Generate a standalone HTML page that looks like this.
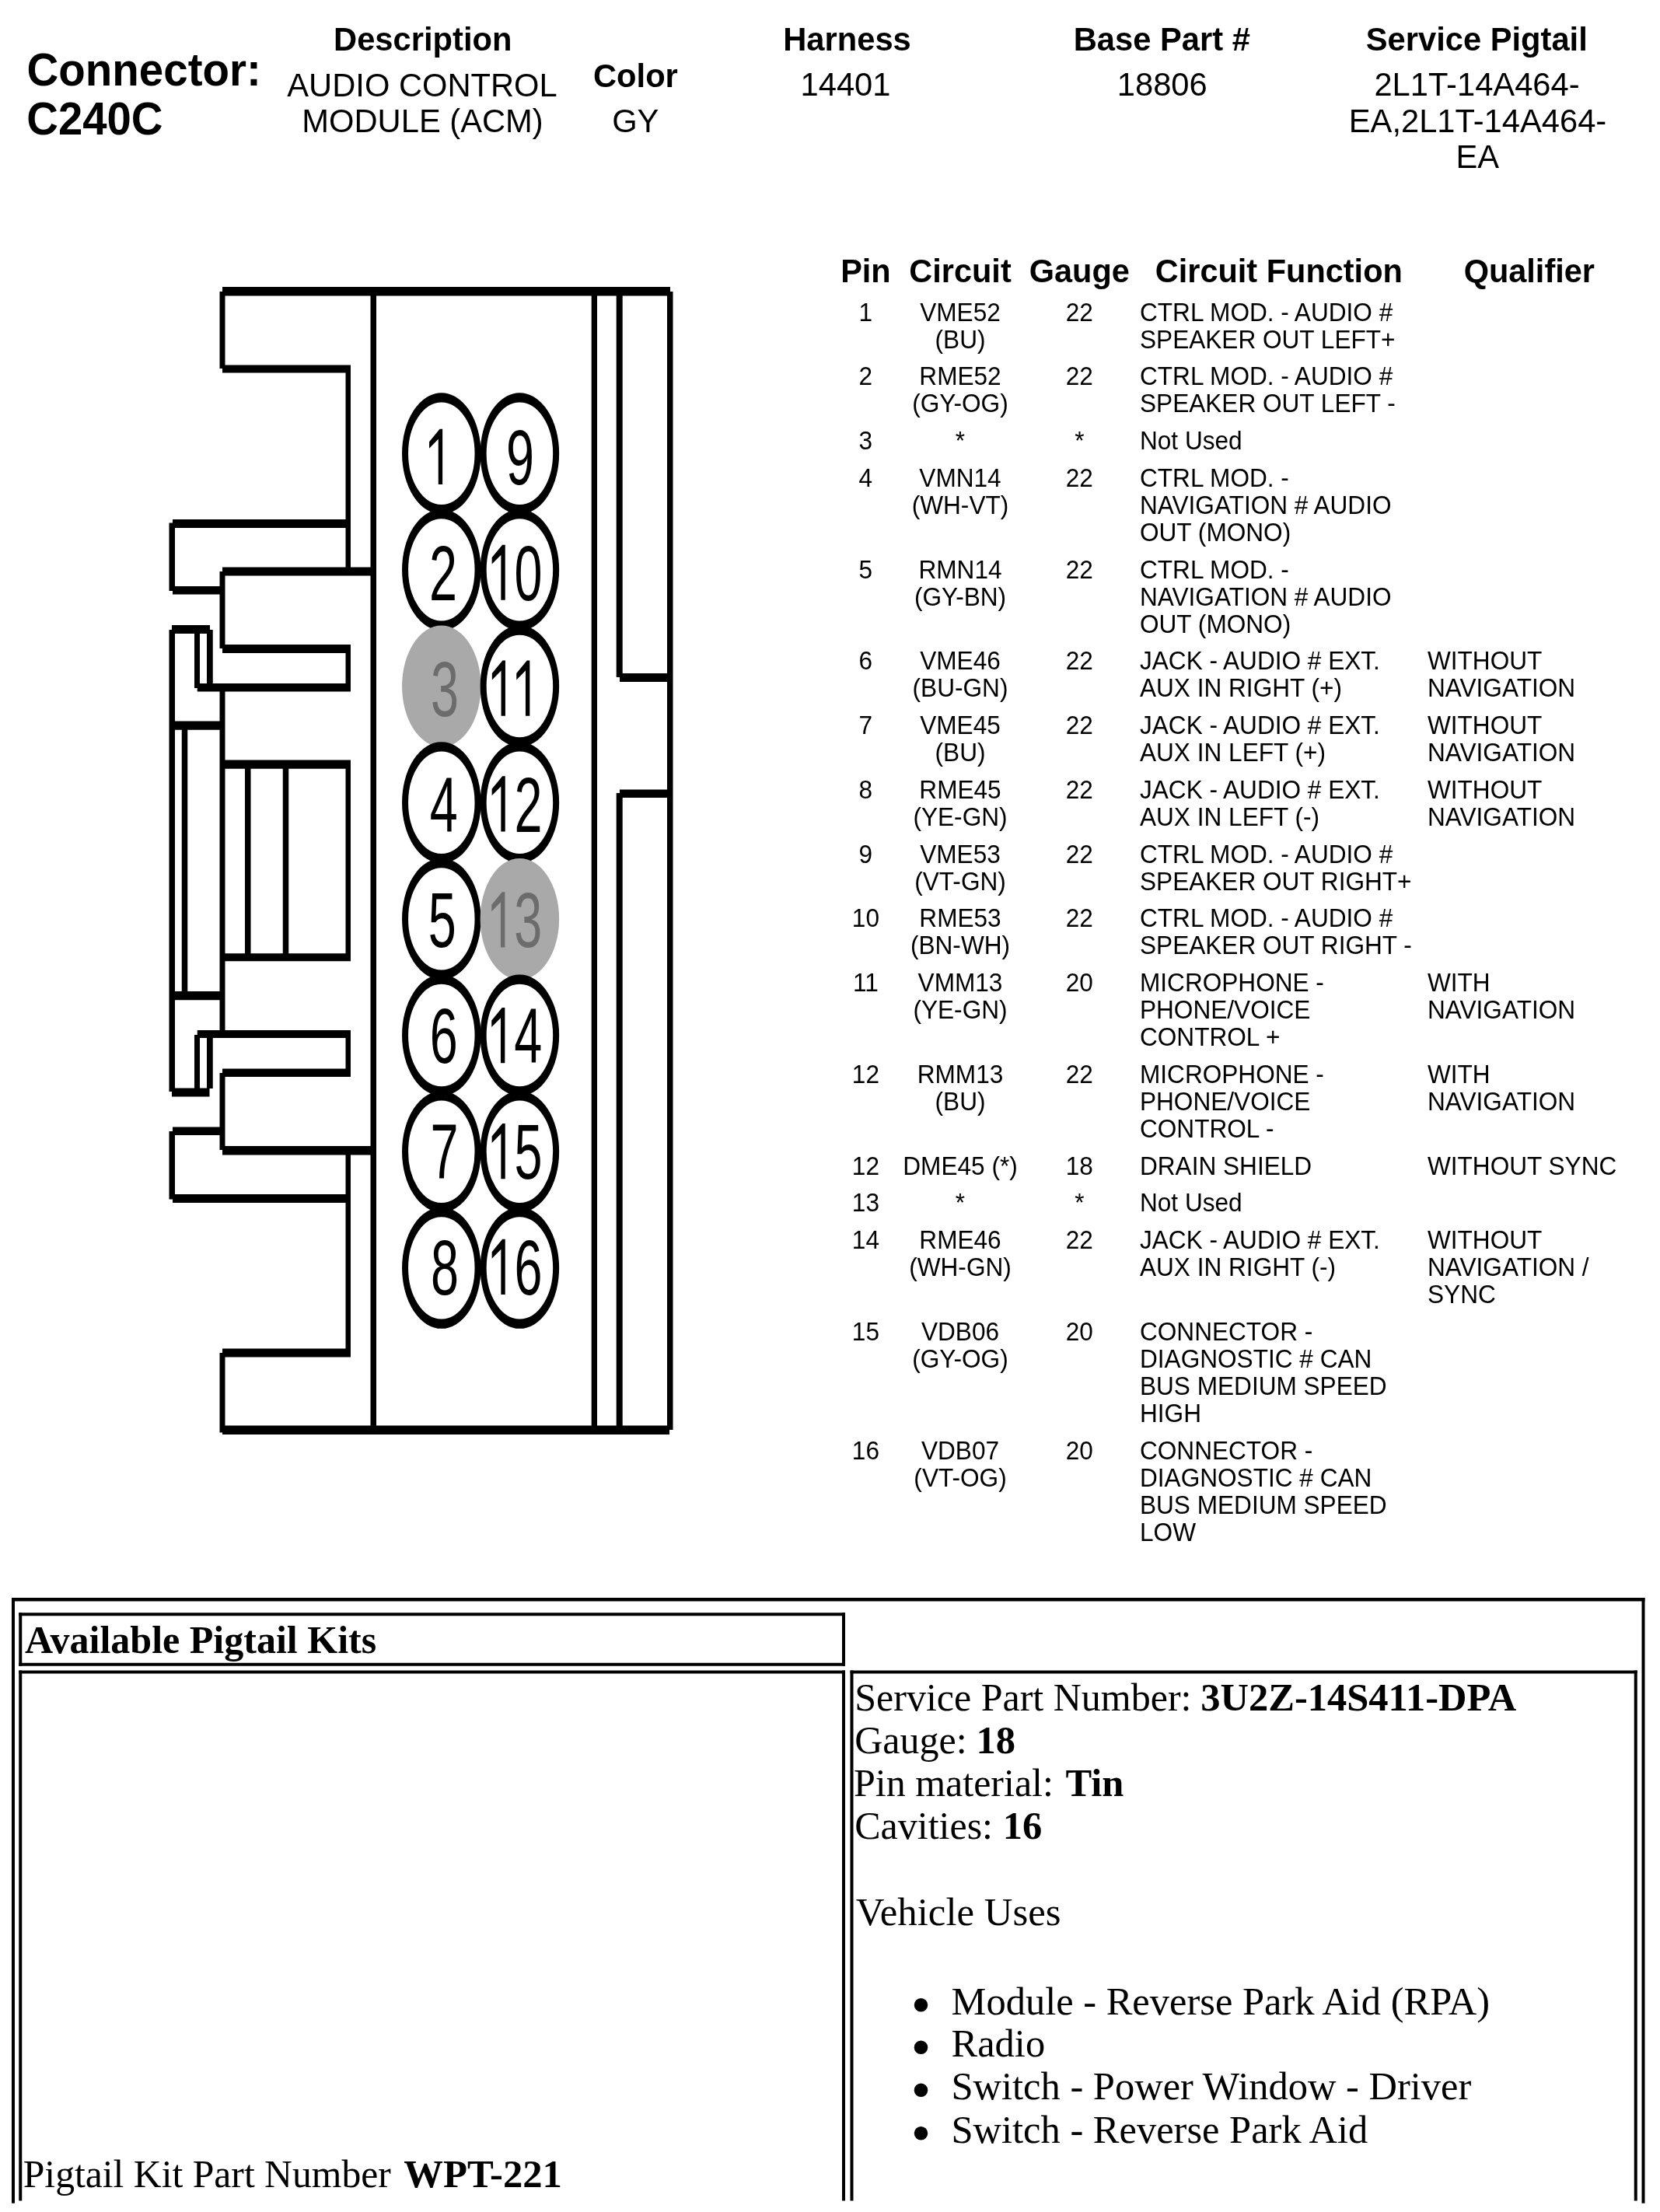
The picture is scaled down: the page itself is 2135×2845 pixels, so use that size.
<!DOCTYPE html>
<html><head><meta charset="utf-8"><title>Connector C240C</title>
<style>
html,body{margin:0;padding:0;background:#fff;}
body{width:2135px;height:2845px;overflow:hidden;font-family:"Liberation Sans",sans-serif;}
svg{display:block;filter:grayscale(100%);}
</style></head><body>
<svg width="2135" height="2845" viewBox="0 0 2135 2845"><text transform="translate(34.5,110) scale(1,1.04)" font-family="Liberation Sans" font-size="56.5" font-weight="bold" text-anchor="start" fill="#000">Connector:</text>
<text transform="translate(34.25,172.5) scale(1,1.04)" font-family="Liberation Sans" font-size="56.3" font-weight="bold" text-anchor="start" fill="#000">C240C</text>
<text transform="translate(543.75,65) scale(1,1.04)" font-family="Liberation Sans" font-size="41.7" font-weight="bold" text-anchor="middle" fill="#000">Description</text>
<text transform="translate(543,123.75) scale(1,1.04)" font-family="Liberation Sans" font-size="41.7" font-weight="normal" text-anchor="middle" fill="#000">AUDIO CONTROL</text>
<text transform="translate(543.5,170) scale(1,1.04)" font-family="Liberation Sans" font-size="41.7" font-weight="normal" text-anchor="middle" fill="#000">MODULE (ACM)</text>
<text transform="translate(817.4,112) scale(1,1.04)" font-family="Liberation Sans" font-size="41.7" font-weight="bold" text-anchor="middle" fill="#000">Color</text>
<text transform="translate(817.25,170) scale(1,1.04)" font-family="Liberation Sans" font-size="41.7" font-weight="normal" text-anchor="middle" fill="#000">GY</text>
<text transform="translate(1089.5,65) scale(1,1.04)" font-family="Liberation Sans" font-size="41.7" font-weight="bold" text-anchor="middle" fill="#000">Harness</text>
<text transform="translate(1087.5,123) scale(1,1.04)" font-family="Liberation Sans" font-size="41.7" font-weight="normal" text-anchor="middle" fill="#000">14401</text>
<text transform="translate(1494.25,65) scale(1,1.04)" font-family="Liberation Sans" font-size="41.7" font-weight="bold" text-anchor="middle" fill="#000">Base Part #</text>
<text transform="translate(1494.75,123) scale(1,1.04)" font-family="Liberation Sans" font-size="41.7" font-weight="normal" text-anchor="middle" fill="#000">18806</text>
<text transform="translate(1899.25,65) scale(1,1.04)" font-family="Liberation Sans" font-size="41.7" font-weight="bold" text-anchor="middle" fill="#000">Service Pigtail</text>
<text transform="translate(1899.5,123) scale(1,1.04)" font-family="Liberation Sans" font-size="41.7" font-weight="normal" text-anchor="middle" fill="#000">2L1T-14A464-</text>
<text transform="translate(1900.5,170) scale(1,1.04)" font-family="Liberation Sans" font-size="41.7" font-weight="normal" text-anchor="middle" fill="#000">EA,2L1T-14A464-</text>
<text transform="translate(1900.25,216) scale(1,1.04)" font-family="Liberation Sans" font-size="41.7" font-weight="normal" text-anchor="middle" fill="#000">EA</text>
<rect x="286" y="369" width="576" height="11.5" fill="#000"/>
<rect x="286" y="1833.5" width="575" height="11.5" fill="#000"/>
<rect x="858" y="375" width="7.5" height="1464" fill="#000"/>
<rect x="760.7" y="375" width="7.3" height="1464" fill="#000"/>
<rect x="792.7" y="375" width="8.0" height="496" fill="#000"/>
<rect x="792.7" y="1020" width="8.0" height="819" fill="#000"/>
<rect x="797" y="866" width="65" height="11" fill="#000"/>
<rect x="797" y="1015.5" width="65" height="10.5" fill="#000"/>
<rect x="476.5" y="375" width="7.5" height="1464" fill="#000"/>
<rect x="282.5" y="375" width="7.0" height="99" fill="#000"/>
<rect x="286" y="469.5" width="165" height="10.0" fill="#000"/>
<rect x="444.5" y="470" width="6.5" height="265" fill="#000"/>
<rect x="222" y="668" width="226" height="11" fill="#000"/>
<rect x="217.5" y="672.5" width="7.5" height="87.5" fill="#000"/>
<rect x="222" y="754" width="64" height="10.5" fill="#000"/>
<rect x="286" y="729.5" width="194" height="11.0" fill="#000"/>
<rect x="282.5" y="735" width="7.0" height="99" fill="#000"/>
<rect x="286" y="829" width="165" height="11" fill="#000"/>
<rect x="444.5" y="830" width="6.5" height="59" fill="#000"/>
<rect x="253.75" y="879" width="197.25" height="10.5" fill="#000"/>
<rect x="221" y="804" width="49" height="11" fill="#000"/>
<rect x="217.5" y="810" width="7.5" height="594" fill="#000"/>
<rect x="250" y="812" width="7" height="73" fill="#000"/>
<rect x="266" y="810" width="7.75" height="70" fill="#000"/>
<rect x="282.5" y="885" width="7.0" height="442.5" fill="#000"/>
<rect x="222" y="927.5" width="64" height="11.25" fill="#000"/>
<rect x="233.75" y="938" width="7.5" height="337" fill="#000"/>
<rect x="222" y="1275" width="64" height="11.25" fill="#000"/>
<rect x="286" y="977.5" width="165" height="11.25" fill="#000"/>
<rect x="444.5" y="978" width="6.5" height="252" fill="#000"/>
<rect x="315" y="988" width="7.5" height="239" fill="#000"/>
<rect x="363.75" y="988" width="7.5" height="239" fill="#000"/>
<rect x="286" y="1226.25" width="165" height="10.0" fill="#000"/>
<rect x="253.75" y="1325" width="197.25" height="10" fill="#000"/>
<rect x="444.5" y="1330" width="6.5" height="54" fill="#000"/>
<rect x="286" y="1374.5" width="165" height="10.5" fill="#000"/>
<rect x="250" y="1331" width="7" height="73" fill="#000"/>
<rect x="266" y="1333" width="7.75" height="67" fill="#000"/>
<rect x="221" y="1399.5" width="48.5" height="11.0" fill="#000"/>
<rect x="282.5" y="1380" width="7.0" height="99" fill="#000"/>
<rect x="222" y="1449.5" width="64" height="10.5" fill="#000"/>
<rect x="217.5" y="1455" width="7.5" height="87.5" fill="#000"/>
<rect x="286" y="1474" width="194" height="11.5" fill="#000"/>
<rect x="444.5" y="1485" width="6.5" height="255" fill="#000"/>
<rect x="222" y="1536" width="229" height="11" fill="#000"/>
<rect x="286" y="1734.5" width="165" height="11.0" fill="#000"/>
<rect x="282.5" y="1740" width="7.0" height="102.5" fill="#000"/>
<g transform="translate(567.8,583.25) scale(1,1.537)"><circle cx="0" cy="0" r="46.75" fill="#fff" stroke="#000" stroke-width="8"/></g>
<g transform="translate(0,623.00) scale(1,1.56)"><path d="M563.76,0.00 L569.13,0.00 L569.13,-45.65 L565.57,-45.65 L552.05,-35.11 L552.05,-29.66 L563.76,-37.29 L563.76,0.00Z" fill="#000"/></g>
<g transform="translate(668.4,583.25) scale(1,1.537)"><circle cx="0" cy="0" r="46.75" fill="#fff" stroke="#000" stroke-width="8"/></g>
<g transform="translate(0,623.00) scale(1,1.56)"><text x="651.00" y="0" font-family="Liberation Sans" font-size="64.7" fill="#000">9</text></g>
<g transform="translate(567.8,732.91) scale(1,1.537)"><circle cx="0" cy="0" r="46.75" fill="#fff" stroke="#000" stroke-width="8"/></g>
<g transform="translate(0,771.86) scale(1,1.56)"><text x="552.00" y="0" font-family="Liberation Sans" font-size="64.7" fill="#000">2</text></g>
<g transform="translate(668.4,732.91) scale(1,1.537)"><circle cx="0" cy="0" r="46.75" fill="#fff" stroke="#000" stroke-width="8"/></g>
<g transform="translate(0,771.86) scale(1,1.56)"><path d="M644.36,0.00 L649.73,0.00 L649.73,-45.65 L646.17,-45.65 L632.65,-35.11 L632.65,-29.66 L644.36,-37.29 L644.36,0.00Z" fill="#000"/><text x="661.58" y="0" font-family="Liberation Sans" font-size="64.7" fill="#000">0</text></g>
<g transform="translate(567.8,882.5699999999999) scale(1,1.537)"><ellipse cx="0" cy="0" rx="50.75" ry="50.75" fill="#a9a9a9"/></g>
<g transform="translate(0,920.72) scale(1,1.56)"><text x="553.90" y="0" font-family="Liberation Sans" font-size="64.7" fill="#6c6c6c">3</text></g>
<g transform="translate(668.4,882.5699999999999) scale(1,1.537)"><circle cx="0" cy="0" r="46.75" fill="#fff" stroke="#000" stroke-width="8"/></g>
<g transform="translate(0,920.72) scale(1,1.56)"><path d="M644.56,0.00 L649.93,0.00 L649.93,-45.65 L646.37,-45.65 L632.85,-35.11 L632.85,-29.66 L644.56,-37.29 L644.56,0.00Z" fill="#000"/><path d="M675.95,0.00 L681.32,0.00 L681.32,-45.65 L677.76,-45.65 L664.24,-35.11 L664.24,-29.66 L675.95,-37.29 L675.95,0.00Z" fill="#000"/></g>
<g transform="translate(567.8,1032.23) scale(1,1.537)"><circle cx="0" cy="0" r="46.75" fill="#fff" stroke="#000" stroke-width="8"/></g>
<g transform="translate(0,1069.58) scale(1,1.56)"><text x="552.80" y="0" font-family="Liberation Sans" font-size="64.7" fill="#000">4</text></g>
<g transform="translate(668.4,1032.23) scale(1,1.537)"><circle cx="0" cy="0" r="46.75" fill="#fff" stroke="#000" stroke-width="8"/></g>
<g transform="translate(0,1069.58) scale(1,1.56)"><path d="M644.36,0.00 L649.73,0.00 L649.73,-45.65 L646.17,-45.65 L632.65,-35.11 L632.65,-29.66 L644.36,-37.29 L644.36,0.00Z" fill="#000"/><text x="661.58" y="0" font-family="Liberation Sans" font-size="64.7" fill="#000">2</text></g>
<g transform="translate(567.8,1181.8899999999999) scale(1,1.537)"><circle cx="0" cy="0" r="46.75" fill="#fff" stroke="#000" stroke-width="8"/></g>
<g transform="translate(0,1218.44) scale(1,1.56)"><text x="550.80" y="0" font-family="Liberation Sans" font-size="64.7" fill="#000">5</text></g>
<g transform="translate(668.4,1181.8899999999999) scale(1,1.537)"><ellipse cx="0" cy="0" rx="50.75" ry="50.75" fill="#a9a9a9"/></g>
<g transform="translate(0,1218.44) scale(1,1.56)"><path d="M643.96,0.00 L649.33,0.00 L649.33,-45.65 L645.77,-45.65 L632.25,-35.11 L632.25,-29.66 L643.96,-37.29 L643.96,0.00Z" fill="#6c6c6c"/><text x="661.18" y="0" font-family="Liberation Sans" font-size="64.7" fill="#6c6c6c">3</text></g>
<g transform="translate(567.8,1331.55) scale(1,1.537)"><circle cx="0" cy="0" r="46.75" fill="#fff" stroke="#000" stroke-width="8"/></g>
<g transform="translate(0,1367.30) scale(1,1.56)"><text x="552.80" y="0" font-family="Liberation Sans" font-size="64.7" fill="#000">6</text></g>
<g transform="translate(668.4,1331.55) scale(1,1.537)"><circle cx="0" cy="0" r="46.75" fill="#fff" stroke="#000" stroke-width="8"/></g>
<g transform="translate(0,1367.30) scale(1,1.56)"><path d="M643.96,0.00 L649.33,0.00 L649.33,-45.65 L645.77,-45.65 L632.25,-35.11 L632.25,-29.66 L643.96,-37.29 L643.96,0.00Z" fill="#000"/><text x="661.18" y="0" font-family="Liberation Sans" font-size="64.7" fill="#000">4</text></g>
<g transform="translate(567.8,1481.21) scale(1,1.537)"><circle cx="0" cy="0" r="46.75" fill="#fff" stroke="#000" stroke-width="8"/></g>
<g transform="translate(0,1516.16) scale(1,1.56)"><text x="553.40" y="0" font-family="Liberation Sans" font-size="64.7" fill="#000">7</text></g>
<g transform="translate(668.4,1481.21) scale(1,1.537)"><circle cx="0" cy="0" r="46.75" fill="#fff" stroke="#000" stroke-width="8"/></g>
<g transform="translate(0,1516.16) scale(1,1.56)"><path d="M644.36,0.00 L649.73,0.00 L649.73,-45.65 L646.17,-45.65 L632.65,-35.11 L632.65,-29.66 L644.36,-37.29 L644.36,0.00Z" fill="#000"/><text x="661.58" y="0" font-family="Liberation Sans" font-size="64.7" fill="#000">5</text></g>
<g transform="translate(567.8,1630.87) scale(1,1.537)"><circle cx="0" cy="0" r="46.75" fill="#fff" stroke="#000" stroke-width="8"/></g>
<g transform="translate(0,1665.02) scale(1,1.56)"><text x="554.00" y="0" font-family="Liberation Sans" font-size="64.7" fill="#000">8</text></g>
<g transform="translate(668.4,1630.87) scale(1,1.537)"><circle cx="0" cy="0" r="46.75" fill="#fff" stroke="#000" stroke-width="8"/></g>
<g transform="translate(0,1665.02) scale(1,1.56)"><path d="M644.36,0.00 L649.73,0.00 L649.73,-45.65 L646.17,-45.65 L632.65,-35.11 L632.65,-29.66 L644.36,-37.29 L644.36,0.00Z" fill="#000"/><text x="661.58" y="0" font-family="Liberation Sans" font-size="64.7" fill="#000">6</text></g>
<text transform="translate(1113.4,363) scale(1,1.04)" font-family="Liberation Sans" font-size="41.5" font-weight="bold" text-anchor="middle" fill="#000">Pin</text>
<text transform="translate(1235,363) scale(1,1.04)" font-family="Liberation Sans" font-size="41.5" font-weight="bold" text-anchor="middle" fill="#000">Circuit</text>
<text transform="translate(1388.3,363) scale(1,1.04)" font-family="Liberation Sans" font-size="41.5" font-weight="bold" text-anchor="middle" fill="#000">Gauge</text>
<text transform="translate(1644.8,363) scale(1,1.04)" font-family="Liberation Sans" font-size="41.5" font-weight="bold" text-anchor="middle" fill="#000">Circuit Function</text>
<text transform="translate(1966.8,363) scale(1,1.04)" font-family="Liberation Sans" font-size="41.5" font-weight="bold" text-anchor="middle" fill="#000">Qualifier</text>
<text transform="translate(1113.4,412.5) scale(1,1.04)" font-family="Liberation Sans" font-size="31.6" font-weight="normal" text-anchor="middle" fill="#000">1</text>
<text transform="translate(1235,412.5) scale(1,1.04)" font-family="Liberation Sans" font-size="31.6" font-weight="normal" text-anchor="middle" fill="#000">VME52</text>
<text transform="translate(1235,447.5) scale(1,1.04)" font-family="Liberation Sans" font-size="31.6" font-weight="normal" text-anchor="middle" fill="#000">(BU)</text>
<text transform="translate(1388.3,412.5) scale(1,1.04)" font-family="Liberation Sans" font-size="31.6" font-weight="normal" text-anchor="middle" fill="#000">22</text>
<text transform="translate(1466,412.5) scale(1,1.04)" font-family="Liberation Sans" font-size="31.6" font-weight="normal" text-anchor="start" fill="#000">CTRL MOD. - AUDIO #</text>
<text transform="translate(1466,447.5) scale(1,1.04)" font-family="Liberation Sans" font-size="31.6" font-weight="normal" text-anchor="start" fill="#000">SPEAKER OUT LEFT+</text>
<text transform="translate(1113.4,495.25) scale(1,1.04)" font-family="Liberation Sans" font-size="31.6" font-weight="normal" text-anchor="middle" fill="#000">2</text>
<text transform="translate(1235,495.25) scale(1,1.04)" font-family="Liberation Sans" font-size="31.6" font-weight="normal" text-anchor="middle" fill="#000">RME52</text>
<text transform="translate(1235,530.25) scale(1,1.04)" font-family="Liberation Sans" font-size="31.6" font-weight="normal" text-anchor="middle" fill="#000">(GY-OG)</text>
<text transform="translate(1388.3,495.25) scale(1,1.04)" font-family="Liberation Sans" font-size="31.6" font-weight="normal" text-anchor="middle" fill="#000">22</text>
<text transform="translate(1466,495.25) scale(1,1.04)" font-family="Liberation Sans" font-size="31.6" font-weight="normal" text-anchor="start" fill="#000">CTRL MOD. - AUDIO #</text>
<text transform="translate(1466,530.25) scale(1,1.04)" font-family="Liberation Sans" font-size="31.6" font-weight="normal" text-anchor="start" fill="#000">SPEAKER OUT LEFT -</text>
<text transform="translate(1113.4,578.0) scale(1,1.04)" font-family="Liberation Sans" font-size="31.6" font-weight="normal" text-anchor="middle" fill="#000">3</text>
<text transform="translate(1235,578.0) scale(1,1.04)" font-family="Liberation Sans" font-size="31.6" font-weight="normal" text-anchor="middle" fill="#000">*</text>
<text transform="translate(1388.3,578.0) scale(1,1.04)" font-family="Liberation Sans" font-size="31.6" font-weight="normal" text-anchor="middle" fill="#000">*</text>
<text transform="translate(1466,578.0) scale(1,1.04)" font-family="Liberation Sans" font-size="31.6" font-weight="normal" text-anchor="start" fill="#000">Not Used</text>
<text transform="translate(1113.4,625.75) scale(1,1.04)" font-family="Liberation Sans" font-size="31.6" font-weight="normal" text-anchor="middle" fill="#000">4</text>
<text transform="translate(1235,625.75) scale(1,1.04)" font-family="Liberation Sans" font-size="31.6" font-weight="normal" text-anchor="middle" fill="#000">VMN14</text>
<text transform="translate(1235,660.75) scale(1,1.04)" font-family="Liberation Sans" font-size="31.6" font-weight="normal" text-anchor="middle" fill="#000">(WH-VT)</text>
<text transform="translate(1388.3,625.75) scale(1,1.04)" font-family="Liberation Sans" font-size="31.6" font-weight="normal" text-anchor="middle" fill="#000">22</text>
<text transform="translate(1466,625.75) scale(1,1.04)" font-family="Liberation Sans" font-size="31.6" font-weight="normal" text-anchor="start" fill="#000">CTRL MOD. -</text>
<text transform="translate(1466,660.75) scale(1,1.04)" font-family="Liberation Sans" font-size="31.6" font-weight="normal" text-anchor="start" fill="#000">NAVIGATION # AUDIO</text>
<text transform="translate(1466,695.75) scale(1,1.04)" font-family="Liberation Sans" font-size="31.6" font-weight="normal" text-anchor="start" fill="#000">OUT (MONO)</text>
<text transform="translate(1113.4,743.5) scale(1,1.04)" font-family="Liberation Sans" font-size="31.6" font-weight="normal" text-anchor="middle" fill="#000">5</text>
<text transform="translate(1235,743.5) scale(1,1.04)" font-family="Liberation Sans" font-size="31.6" font-weight="normal" text-anchor="middle" fill="#000">RMN14</text>
<text transform="translate(1235,778.5) scale(1,1.04)" font-family="Liberation Sans" font-size="31.6" font-weight="normal" text-anchor="middle" fill="#000">(GY-BN)</text>
<text transform="translate(1388.3,743.5) scale(1,1.04)" font-family="Liberation Sans" font-size="31.6" font-weight="normal" text-anchor="middle" fill="#000">22</text>
<text transform="translate(1466,743.5) scale(1,1.04)" font-family="Liberation Sans" font-size="31.6" font-weight="normal" text-anchor="start" fill="#000">CTRL MOD. -</text>
<text transform="translate(1466,778.5) scale(1,1.04)" font-family="Liberation Sans" font-size="31.6" font-weight="normal" text-anchor="start" fill="#000">NAVIGATION # AUDIO</text>
<text transform="translate(1466,813.5) scale(1,1.04)" font-family="Liberation Sans" font-size="31.6" font-weight="normal" text-anchor="start" fill="#000">OUT (MONO)</text>
<text transform="translate(1113.4,861.25) scale(1,1.04)" font-family="Liberation Sans" font-size="31.6" font-weight="normal" text-anchor="middle" fill="#000">6</text>
<text transform="translate(1235,861.25) scale(1,1.04)" font-family="Liberation Sans" font-size="31.6" font-weight="normal" text-anchor="middle" fill="#000">VME46</text>
<text transform="translate(1235,896.25) scale(1,1.04)" font-family="Liberation Sans" font-size="31.6" font-weight="normal" text-anchor="middle" fill="#000">(BU-GN)</text>
<text transform="translate(1388.3,861.25) scale(1,1.04)" font-family="Liberation Sans" font-size="31.6" font-weight="normal" text-anchor="middle" fill="#000">22</text>
<text transform="translate(1466,861.25) scale(1,1.04)" font-family="Liberation Sans" font-size="31.6" font-weight="normal" text-anchor="start" fill="#000">JACK - AUDIO # EXT.</text>
<text transform="translate(1466,896.25) scale(1,1.04)" font-family="Liberation Sans" font-size="31.6" font-weight="normal" text-anchor="start" fill="#000">AUX IN RIGHT (+)</text>
<text transform="translate(1836,861.25) scale(1,1.04)" font-family="Liberation Sans" font-size="31.6" font-weight="normal" text-anchor="start" fill="#000">WITHOUT</text>
<text transform="translate(1836,896.25) scale(1,1.04)" font-family="Liberation Sans" font-size="31.6" font-weight="normal" text-anchor="start" fill="#000">NAVIGATION</text>
<text transform="translate(1113.4,944.0) scale(1,1.04)" font-family="Liberation Sans" font-size="31.6" font-weight="normal" text-anchor="middle" fill="#000">7</text>
<text transform="translate(1235,944.0) scale(1,1.04)" font-family="Liberation Sans" font-size="31.6" font-weight="normal" text-anchor="middle" fill="#000">VME45</text>
<text transform="translate(1235,979.0) scale(1,1.04)" font-family="Liberation Sans" font-size="31.6" font-weight="normal" text-anchor="middle" fill="#000">(BU)</text>
<text transform="translate(1388.3,944.0) scale(1,1.04)" font-family="Liberation Sans" font-size="31.6" font-weight="normal" text-anchor="middle" fill="#000">22</text>
<text transform="translate(1466,944.0) scale(1,1.04)" font-family="Liberation Sans" font-size="31.6" font-weight="normal" text-anchor="start" fill="#000">JACK - AUDIO # EXT.</text>
<text transform="translate(1466,979.0) scale(1,1.04)" font-family="Liberation Sans" font-size="31.6" font-weight="normal" text-anchor="start" fill="#000">AUX IN LEFT (+)</text>
<text transform="translate(1836,944.0) scale(1,1.04)" font-family="Liberation Sans" font-size="31.6" font-weight="normal" text-anchor="start" fill="#000">WITHOUT</text>
<text transform="translate(1836,979.0) scale(1,1.04)" font-family="Liberation Sans" font-size="31.6" font-weight="normal" text-anchor="start" fill="#000">NAVIGATION</text>
<text transform="translate(1113.4,1026.75) scale(1,1.04)" font-family="Liberation Sans" font-size="31.6" font-weight="normal" text-anchor="middle" fill="#000">8</text>
<text transform="translate(1235,1026.75) scale(1,1.04)" font-family="Liberation Sans" font-size="31.6" font-weight="normal" text-anchor="middle" fill="#000">RME45</text>
<text transform="translate(1235,1061.75) scale(1,1.04)" font-family="Liberation Sans" font-size="31.6" font-weight="normal" text-anchor="middle" fill="#000">(YE-GN)</text>
<text transform="translate(1388.3,1026.75) scale(1,1.04)" font-family="Liberation Sans" font-size="31.6" font-weight="normal" text-anchor="middle" fill="#000">22</text>
<text transform="translate(1466,1026.75) scale(1,1.04)" font-family="Liberation Sans" font-size="31.6" font-weight="normal" text-anchor="start" fill="#000">JACK - AUDIO # EXT.</text>
<text transform="translate(1466,1061.75) scale(1,1.04)" font-family="Liberation Sans" font-size="31.6" font-weight="normal" text-anchor="start" fill="#000">AUX IN LEFT (-)</text>
<text transform="translate(1836,1026.75) scale(1,1.04)" font-family="Liberation Sans" font-size="31.6" font-weight="normal" text-anchor="start" fill="#000">WITHOUT</text>
<text transform="translate(1836,1061.75) scale(1,1.04)" font-family="Liberation Sans" font-size="31.6" font-weight="normal" text-anchor="start" fill="#000">NAVIGATION</text>
<text transform="translate(1113.4,1109.5) scale(1,1.04)" font-family="Liberation Sans" font-size="31.6" font-weight="normal" text-anchor="middle" fill="#000">9</text>
<text transform="translate(1235,1109.5) scale(1,1.04)" font-family="Liberation Sans" font-size="31.6" font-weight="normal" text-anchor="middle" fill="#000">VME53</text>
<text transform="translate(1235,1144.5) scale(1,1.04)" font-family="Liberation Sans" font-size="31.6" font-weight="normal" text-anchor="middle" fill="#000">(VT-GN)</text>
<text transform="translate(1388.3,1109.5) scale(1,1.04)" font-family="Liberation Sans" font-size="31.6" font-weight="normal" text-anchor="middle" fill="#000">22</text>
<text transform="translate(1466,1109.5) scale(1,1.04)" font-family="Liberation Sans" font-size="31.6" font-weight="normal" text-anchor="start" fill="#000">CTRL MOD. - AUDIO #</text>
<text transform="translate(1466,1144.5) scale(1,1.04)" font-family="Liberation Sans" font-size="31.6" font-weight="normal" text-anchor="start" fill="#000">SPEAKER OUT RIGHT+</text>
<text transform="translate(1113.4,1192.25) scale(1,1.04)" font-family="Liberation Sans" font-size="31.6" font-weight="normal" text-anchor="middle" fill="#000">10</text>
<text transform="translate(1235,1192.25) scale(1,1.04)" font-family="Liberation Sans" font-size="31.6" font-weight="normal" text-anchor="middle" fill="#000">RME53</text>
<text transform="translate(1235,1227.25) scale(1,1.04)" font-family="Liberation Sans" font-size="31.6" font-weight="normal" text-anchor="middle" fill="#000">(BN-WH)</text>
<text transform="translate(1388.3,1192.25) scale(1,1.04)" font-family="Liberation Sans" font-size="31.6" font-weight="normal" text-anchor="middle" fill="#000">22</text>
<text transform="translate(1466,1192.25) scale(1,1.04)" font-family="Liberation Sans" font-size="31.6" font-weight="normal" text-anchor="start" fill="#000">CTRL MOD. - AUDIO #</text>
<text transform="translate(1466,1227.25) scale(1,1.04)" font-family="Liberation Sans" font-size="31.6" font-weight="normal" text-anchor="start" fill="#000">SPEAKER OUT RIGHT -</text>
<text transform="translate(1113.4,1275.0) scale(1,1.04)" font-family="Liberation Sans" font-size="31.6" font-weight="normal" text-anchor="middle" fill="#000">11</text>
<text transform="translate(1235,1275.0) scale(1,1.04)" font-family="Liberation Sans" font-size="31.6" font-weight="normal" text-anchor="middle" fill="#000">VMM13</text>
<text transform="translate(1235,1310.0) scale(1,1.04)" font-family="Liberation Sans" font-size="31.6" font-weight="normal" text-anchor="middle" fill="#000">(YE-GN)</text>
<text transform="translate(1388.3,1275.0) scale(1,1.04)" font-family="Liberation Sans" font-size="31.6" font-weight="normal" text-anchor="middle" fill="#000">20</text>
<text transform="translate(1466,1275.0) scale(1,1.04)" font-family="Liberation Sans" font-size="31.6" font-weight="normal" text-anchor="start" fill="#000">MICROPHONE -</text>
<text transform="translate(1466,1310.0) scale(1,1.04)" font-family="Liberation Sans" font-size="31.6" font-weight="normal" text-anchor="start" fill="#000">PHONE/VOICE</text>
<text transform="translate(1466,1345.0) scale(1,1.04)" font-family="Liberation Sans" font-size="31.6" font-weight="normal" text-anchor="start" fill="#000">CONTROL +</text>
<text transform="translate(1836,1275.0) scale(1,1.04)" font-family="Liberation Sans" font-size="31.6" font-weight="normal" text-anchor="start" fill="#000">WITH</text>
<text transform="translate(1836,1310.0) scale(1,1.04)" font-family="Liberation Sans" font-size="31.6" font-weight="normal" text-anchor="start" fill="#000">NAVIGATION</text>
<text transform="translate(1113.4,1392.75) scale(1,1.04)" font-family="Liberation Sans" font-size="31.6" font-weight="normal" text-anchor="middle" fill="#000">12</text>
<text transform="translate(1235,1392.75) scale(1,1.04)" font-family="Liberation Sans" font-size="31.6" font-weight="normal" text-anchor="middle" fill="#000">RMM13</text>
<text transform="translate(1235,1427.75) scale(1,1.04)" font-family="Liberation Sans" font-size="31.6" font-weight="normal" text-anchor="middle" fill="#000">(BU)</text>
<text transform="translate(1388.3,1392.75) scale(1,1.04)" font-family="Liberation Sans" font-size="31.6" font-weight="normal" text-anchor="middle" fill="#000">22</text>
<text transform="translate(1466,1392.75) scale(1,1.04)" font-family="Liberation Sans" font-size="31.6" font-weight="normal" text-anchor="start" fill="#000">MICROPHONE -</text>
<text transform="translate(1466,1427.75) scale(1,1.04)" font-family="Liberation Sans" font-size="31.6" font-weight="normal" text-anchor="start" fill="#000">PHONE/VOICE</text>
<text transform="translate(1466,1462.75) scale(1,1.04)" font-family="Liberation Sans" font-size="31.6" font-weight="normal" text-anchor="start" fill="#000">CONTROL -</text>
<text transform="translate(1836,1392.75) scale(1,1.04)" font-family="Liberation Sans" font-size="31.6" font-weight="normal" text-anchor="start" fill="#000">WITH</text>
<text transform="translate(1836,1427.75) scale(1,1.04)" font-family="Liberation Sans" font-size="31.6" font-weight="normal" text-anchor="start" fill="#000">NAVIGATION</text>
<text transform="translate(1113.4,1510.5) scale(1,1.04)" font-family="Liberation Sans" font-size="31.6" font-weight="normal" text-anchor="middle" fill="#000">12</text>
<text transform="translate(1235,1510.5) scale(1,1.04)" font-family="Liberation Sans" font-size="31.6" font-weight="normal" text-anchor="middle" fill="#000">DME45 (*)</text>
<text transform="translate(1388.3,1510.5) scale(1,1.04)" font-family="Liberation Sans" font-size="31.6" font-weight="normal" text-anchor="middle" fill="#000">18</text>
<text transform="translate(1466,1510.5) scale(1,1.04)" font-family="Liberation Sans" font-size="31.6" font-weight="normal" text-anchor="start" fill="#000">DRAIN SHIELD</text>
<text transform="translate(1836,1510.5) scale(1,1.04)" font-family="Liberation Sans" font-size="31.6" font-weight="normal" text-anchor="start" fill="#000">WITHOUT SYNC</text>
<text transform="translate(1113.4,1558.25) scale(1,1.04)" font-family="Liberation Sans" font-size="31.6" font-weight="normal" text-anchor="middle" fill="#000">13</text>
<text transform="translate(1235,1558.25) scale(1,1.04)" font-family="Liberation Sans" font-size="31.6" font-weight="normal" text-anchor="middle" fill="#000">*</text>
<text transform="translate(1388.3,1558.25) scale(1,1.04)" font-family="Liberation Sans" font-size="31.6" font-weight="normal" text-anchor="middle" fill="#000">*</text>
<text transform="translate(1466,1558.25) scale(1,1.04)" font-family="Liberation Sans" font-size="31.6" font-weight="normal" text-anchor="start" fill="#000">Not Used</text>
<text transform="translate(1113.4,1606.0) scale(1,1.04)" font-family="Liberation Sans" font-size="31.6" font-weight="normal" text-anchor="middle" fill="#000">14</text>
<text transform="translate(1235,1606.0) scale(1,1.04)" font-family="Liberation Sans" font-size="31.6" font-weight="normal" text-anchor="middle" fill="#000">RME46</text>
<text transform="translate(1235,1641.0) scale(1,1.04)" font-family="Liberation Sans" font-size="31.6" font-weight="normal" text-anchor="middle" fill="#000">(WH-GN)</text>
<text transform="translate(1388.3,1606.0) scale(1,1.04)" font-family="Liberation Sans" font-size="31.6" font-weight="normal" text-anchor="middle" fill="#000">22</text>
<text transform="translate(1466,1606.0) scale(1,1.04)" font-family="Liberation Sans" font-size="31.6" font-weight="normal" text-anchor="start" fill="#000">JACK - AUDIO # EXT.</text>
<text transform="translate(1466,1641.0) scale(1,1.04)" font-family="Liberation Sans" font-size="31.6" font-weight="normal" text-anchor="start" fill="#000">AUX IN RIGHT (-)</text>
<text transform="translate(1836,1606.0) scale(1,1.04)" font-family="Liberation Sans" font-size="31.6" font-weight="normal" text-anchor="start" fill="#000">WITHOUT</text>
<text transform="translate(1836,1641.0) scale(1,1.04)" font-family="Liberation Sans" font-size="31.6" font-weight="normal" text-anchor="start" fill="#000">NAVIGATION /</text>
<text transform="translate(1836,1676.0) scale(1,1.04)" font-family="Liberation Sans" font-size="31.6" font-weight="normal" text-anchor="start" fill="#000">SYNC</text>
<text transform="translate(1113.4,1723.75) scale(1,1.04)" font-family="Liberation Sans" font-size="31.6" font-weight="normal" text-anchor="middle" fill="#000">15</text>
<text transform="translate(1235,1723.75) scale(1,1.04)" font-family="Liberation Sans" font-size="31.6" font-weight="normal" text-anchor="middle" fill="#000">VDB06</text>
<text transform="translate(1235,1758.75) scale(1,1.04)" font-family="Liberation Sans" font-size="31.6" font-weight="normal" text-anchor="middle" fill="#000">(GY-OG)</text>
<text transform="translate(1388.3,1723.75) scale(1,1.04)" font-family="Liberation Sans" font-size="31.6" font-weight="normal" text-anchor="middle" fill="#000">20</text>
<text transform="translate(1466,1723.75) scale(1,1.04)" font-family="Liberation Sans" font-size="31.6" font-weight="normal" text-anchor="start" fill="#000">CONNECTOR -</text>
<text transform="translate(1466,1758.75) scale(1,1.04)" font-family="Liberation Sans" font-size="31.6" font-weight="normal" text-anchor="start" fill="#000">DIAGNOSTIC # CAN</text>
<text transform="translate(1466,1793.75) scale(1,1.04)" font-family="Liberation Sans" font-size="31.6" font-weight="normal" text-anchor="start" fill="#000">BUS MEDIUM SPEED</text>
<text transform="translate(1466,1828.75) scale(1,1.04)" font-family="Liberation Sans" font-size="31.6" font-weight="normal" text-anchor="start" fill="#000">HIGH</text>
<text transform="translate(1113.4,1876.5) scale(1,1.04)" font-family="Liberation Sans" font-size="31.6" font-weight="normal" text-anchor="middle" fill="#000">16</text>
<text transform="translate(1235,1876.5) scale(1,1.04)" font-family="Liberation Sans" font-size="31.6" font-weight="normal" text-anchor="middle" fill="#000">VDB07</text>
<text transform="translate(1235,1911.5) scale(1,1.04)" font-family="Liberation Sans" font-size="31.6" font-weight="normal" text-anchor="middle" fill="#000">(VT-OG)</text>
<text transform="translate(1388.3,1876.5) scale(1,1.04)" font-family="Liberation Sans" font-size="31.6" font-weight="normal" text-anchor="middle" fill="#000">20</text>
<text transform="translate(1466,1876.5) scale(1,1.04)" font-family="Liberation Sans" font-size="31.6" font-weight="normal" text-anchor="start" fill="#000">CONNECTOR -</text>
<text transform="translate(1466,1911.5) scale(1,1.04)" font-family="Liberation Sans" font-size="31.6" font-weight="normal" text-anchor="start" fill="#000">DIAGNOSTIC # CAN</text>
<text transform="translate(1466,1946.5) scale(1,1.04)" font-family="Liberation Sans" font-size="31.6" font-weight="normal" text-anchor="start" fill="#000">BUS MEDIUM SPEED</text>
<text transform="translate(1466,1981.5) scale(1,1.04)" font-family="Liberation Sans" font-size="31.6" font-weight="normal" text-anchor="start" fill="#000">LOW</text>
<rect x="15" y="2055" width="2100.5" height="4.5" fill="#000"/>
<rect x="15" y="2055" width="4" height="778.75" fill="#000"/>
<rect x="2111.5" y="2055" width="4.0" height="778.75" fill="#000"/>
<rect x="24.25" y="2074.25" width="1062.75" height="4.0" fill="#000"/>
<rect x="24.25" y="2138.75" width="1062.75" height="4.0" fill="#000"/>
<rect x="24.25" y="2074.25" width="4.0" height="68.5" fill="#000"/>
<rect x="1083" y="2074.25" width="4" height="68.5" fill="#000"/>
<rect x="24.25" y="2148.5" width="1062.75" height="4.0" fill="#000"/>
<rect x="24.25" y="2148.5" width="4.0" height="682.0" fill="#000"/>
<rect x="1083" y="2148.5" width="4" height="682.0" fill="#000"/>
<rect x="1093.5" y="2148.5" width="1012.25" height="4.0" fill="#000"/>
<rect x="1093.5" y="2148.5" width="4.0" height="682.0" fill="#000"/>
<rect x="2101.75" y="2148.5" width="4.0" height="682.0" fill="#000"/>
<text transform="translate(32,2125.5) scale(1,1.0)" font-family="Liberation Serif" font-size="50.05" font-weight="bold" text-anchor="start" fill="#000">Available Pigtail Kits</text>
<text transform="translate(29.75,2813) scale(1,1.0)" font-family="Liberation Serif" font-size="49.66" font-weight="normal" text-anchor="start" fill="#000">Pigtail Kit Part Number</text>
<text transform="translate(519.25,2813) scale(1,1.0)" font-family="Liberation Serif" font-size="50.7" font-weight="bold" text-anchor="start" fill="#000">WPT-221</text>
<text transform="translate(1099.25,2199.5) scale(1,1.0)" font-family="Liberation Serif" font-size="50" font-weight="normal" text-anchor="start" fill="#000">Service Part Number:</text>
<text transform="translate(1544.25,2199.5) scale(1,1.0)" font-family="Liberation Serif" font-size="50.5" font-weight="bold" text-anchor="start" fill="#000">3U2Z-14S411-DPA</text>
<text transform="translate(1099.25,2255) scale(1,1.0)" font-family="Liberation Serif" font-size="50" font-weight="normal" text-anchor="start" fill="#000">Gauge:</text>
<text transform="translate(1255.5,2255) scale(1,1.0)" font-family="Liberation Serif" font-size="50.5" font-weight="bold" text-anchor="start" fill="#000">18</text>
<text transform="translate(1098,2310) scale(1,1.0)" font-family="Liberation Serif" font-size="50" font-weight="normal" text-anchor="start" fill="#000">Pin material:</text>
<text transform="translate(1370.5,2310) scale(1,1.0)" font-family="Liberation Serif" font-size="50.5" font-weight="bold" text-anchor="start" fill="#000">Tin</text>
<text transform="translate(1099.25,2365) scale(1,1.0)" font-family="Liberation Serif" font-size="50" font-weight="normal" text-anchor="start" fill="#000">Cavities:</text>
<text transform="translate(1289.75,2365) scale(1,1.0)" font-family="Liberation Serif" font-size="50.5" font-weight="bold" text-anchor="start" fill="#000">16</text>
<text transform="translate(1100.75,2476.25) scale(1,1.0)" font-family="Liberation Serif" font-size="50.8" font-weight="normal" text-anchor="start" fill="#000">Vehicle Uses</text>
<circle cx="1184.5" cy="2578.75" r="8.75" fill="#000"/>
<text transform="translate(1223.5,2590.5) scale(1,1.0)" font-family="Liberation Serif" font-size="50.5" font-weight="normal" text-anchor="start" fill="#000">Module - Reverse Park Aid (RPA)</text>
<circle cx="1184.5" cy="2633.25" r="8.75" fill="#000"/>
<text transform="translate(1223.5,2645) scale(1,1.0)" font-family="Liberation Serif" font-size="50.5" font-weight="normal" text-anchor="start" fill="#000">Radio</text>
<circle cx="1184.5" cy="2688.25" r="8.75" fill="#000"/>
<text transform="translate(1223.5,2700) scale(1,1.0)" font-family="Liberation Serif" font-size="50.5" font-weight="normal" text-anchor="start" fill="#000">Switch - Power Window - Driver</text>
<circle cx="1184.5" cy="2743.75" r="8.75" fill="#000"/>
<text transform="translate(1223.5,2755.5) scale(1,1.0)" font-family="Liberation Serif" font-size="50.5" font-weight="normal" text-anchor="start" fill="#000">Switch - Reverse Park Aid</text></svg>
</body></html>
